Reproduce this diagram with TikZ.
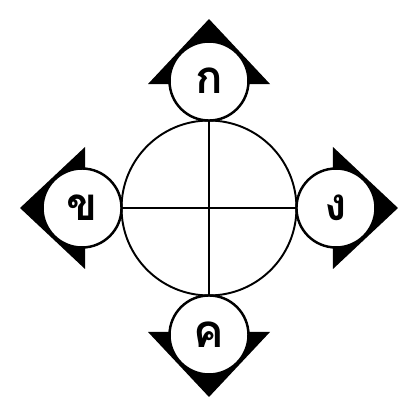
\documentclass[tikz,border=0pt]{standalone}
\usepackage{fontspec}
\newfontfamily\thaifont[Script=Thai]{Loma}
\usetikzlibrary{positioning, calc, backgrounds}

\tikzset{
  hub/.style={circle, draw, line width=1.1pt, minimum size=3.5cm, inner sep=0pt, outer sep=0pt},
  petal/.style={circle, draw, fill=white, line width=1.4pt, minimum size=1.58cm, inner sep=0pt, outer sep=0pt,
                font=\thaifont\bfseries\fontsize{26}{28}\selectfont},
}

\begin{document}
\begin{tikzpicture}[x=0.02cm, y=0.02cm, line join=round]
    \useasboundingbox (0,0) rectangle (414,420);
    \node[hub] (hub) at (209,212) {};
    \draw[line width=1.1pt] (hub.north) -- (hub.south);
    \draw[line width=1.1pt] (hub.west) -- (hub.east);
    % the four letters round the hub
    \foreach \name/\side/\lbl/\ang in {ko/above/ก/90, kho/left/ข/180, ngo/right/ง/0, kho2/below/ค/270} {
        \node[petal, \side=0pt of hub] (\name) {\lbl};
        \begin{scope}[on background layer]
            \fill ($(\name)+(\ang:62)$) -- ($(\name)+(\ang:-3)+(\ang+90:61)$)
                -- ($(\name)+(\ang:-3)+(\ang-90:61)$) -- cycle;
        \end{scope}
    }
\end{tikzpicture}
\end{document}
